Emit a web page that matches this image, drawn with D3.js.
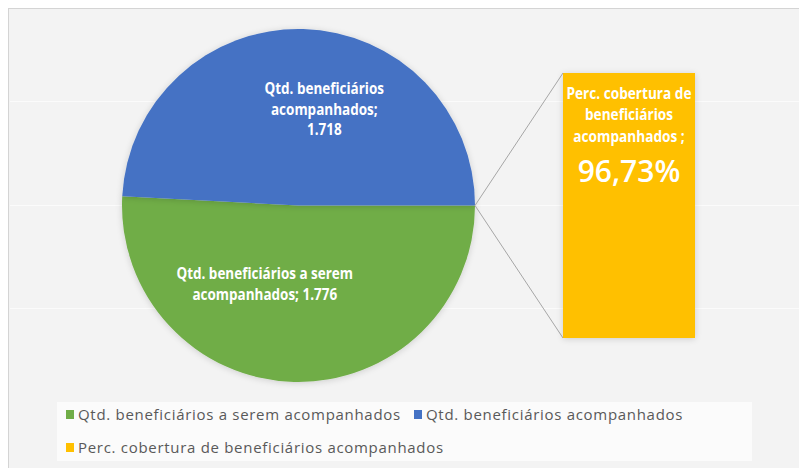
<!DOCTYPE html>
<html><head><meta charset="utf-8">
<script src="https://cdn.jsdelivr.net/npm/d3@7"></script>
<style>
html,body{margin:0;padding:0;background:#fff;}
svg{display:block;}
</style></head>
<body>
<svg id="chart" width="799" height="468"></svg>
<script>
// ---- data ----
const categories = ["Qtd. beneficiários a serem acompanhados", "Qtd. beneficiários acompanhados"];
const pieValues = [1776, 1718];
const pieLabels = ["1.776", "1.718"];
const barCategory = "Perc. cobertura de beneficiários acompanhados";
const barValue = [96.73];
const barLabel = ["96,73%"];
const colors = ["#70ad47", "#4472c4", "#ffc000"];

const svg = d3.select("#chart");
const W = 799, H = 468;

const defs = svg.append("defs");
const f = defs.append("filter").attr("id","sh").attr("x","-20%").attr("y","-20%").attr("width","140%").attr("height","140%");
f.append("feDropShadow").attr("dx",0).attr("dy",1).attr("stdDeviation",3).attr("flood-color","#000").attr("flood-opacity",0.16);

// chart area
svg.append("rect").attr("x",8.5).attr("y",8.5).attr("width",W).attr("height",H)
  .attr("fill","#f3f3f3").attr("stroke","#d4d4d4");

// faint gridlines
const gy = d3.scaleLinear().domain([0,3]).range([101,412]);
svg.append("g").selectAll("line").data([0,1,2]).join("line")
  .attr("x1",10).attr("x2",W).attr("y1",d=>Math.round(gy(d))+0.5).attr("y2",d=>Math.round(gy(d))+0.5)
  .attr("stroke","#fbfbfb").attr("stroke-width",1.2);

// ---- pie ----
const cx = 298.5, cy = 205.5, R = 176.5;
const toRad = Math.PI/180;
// Excel pie-of-bar: the (zero-width) "other" slice sits at 3 o'clock
const pie = d3.pie().sort(null)
  .startAngle(90*toRad).endAngle(450*toRad);
const arcs = pie(pieValues);
const arc = d3.arc().innerRadius(0).outerRadius(R);
const pg = svg.append("g").attr("transform",`translate(${cx},${cy})`);
pg.selectAll("path").data(arcs).join("path")
  .attr("d",arc).attr("fill",(d,i)=>colors[i]).attr("filter","url(#sh)");

// connector lines + bar
const barX = 563, barW = 132;
const y = d3.scaleLinear().domain([0,100]).range([338,73]);
const bTop = y(100), bBot = y(0);
const px = cx + R;
svg.append("line").attr("x1",px).attr("y1",cy).attr("x2",barX).attr("y2",bTop)
  .attr("stroke","#a6a6a6").attr("stroke-width",1);
svg.append("line").attr("x1",px).attr("y1",cy).attr("x2",barX).attr("y2",bBot)
  .attr("stroke","#a6a6a6").attr("stroke-width",1);
svg.append("g").selectAll("rect").data(barValue).join("rect")
  .attr("x",barX).attr("y",bTop).attr("width",barW).attr("height",bBot-bTop)
  .attr("fill",colors[2]).attr("filter","url(#sh)");

// ---- condensed bold label helper ----
const lblFont = "'Open Sans','DejaVu Sans',sans-serif";
function condText(x, yy, s, sx, size){
  svg.append("g").attr("transform",`translate(${x},${yy}) scale(${sx},1)`)
    .append("text").attr("text-anchor","middle").attr("fill","#ffffff")
    .attr("font-family",lblFont).attr("font-weight","bold").attr("font-size",size)
    .text(s);
}

// ---- pie labels ----
const labelArc = d3.arc().innerRadius(R*0.6).outerRadius(R*0.6);
const labelLines = [
  ["Qtd. beneficiários a serem", "acompanhados;  " + pieLabels[0]],
  ["Qtd. beneficiários", "acompanhados;", pieLabels[1]]
];
const labelShift = [-31, 23];
const labelY = [284, 109];
arcs.forEach((a,i)=>{
  const c = labelArc.centroid(a);
  const lines = labelLines[i];
  const x0 = cx + c[0] + labelShift[i];
  const n = lines.length;
  lines.forEach((s,k)=>{
    condText(x0, labelY[i] + (k-(n-1)/2)*20.5 + 5.5, s, 0.87, 15.5);
  });
});

// bar label
["Perc. cobertura de","beneficiários","acompanhados ;"].forEach((s,k)=>{
  condText(barX+barW/2, 98.5+k*21.5, s, 0.88, 15.5);
});
svg.append("text").attr("x",barX+barW/2).attr("y",182).attr("text-anchor","middle")
  .attr("fill","#ffffff").attr("font-family","'Open Sans','DejaVu Sans',sans-serif")
  .attr("font-weight",600).attr("font-size",30).text(barLabel[0]);

// ---- legend ----
svg.append("rect").attr("x",57).attr("y",402).attr("width",695).attr("height",59).attr("fill","#fbfbfb");
const legItems = [
  {name:categories[0], color:colors[0], x:66, y:415},
  {name:categories[1], color:colors[1], x:414, y:415},
  {name:barCategory, color:colors[2], x:66, y:448}
];
const lg = svg.append("g");
legItems.forEach(it=>{
  lg.append("rect").attr("x",it.x).attr("y",it.y-5).attr("width",8).attr("height",9).attr("fill",it.color);
  lg.append("text").attr("x",it.x+12).attr("y",it.y+5).attr("fill","#595959")
    .attr("font-family","'Open Sans','DejaVu Sans',sans-serif").attr("font-size",15)
    .attr("letter-spacing",0.7)
    .text(it.name);
});
</script>
</body></html>
